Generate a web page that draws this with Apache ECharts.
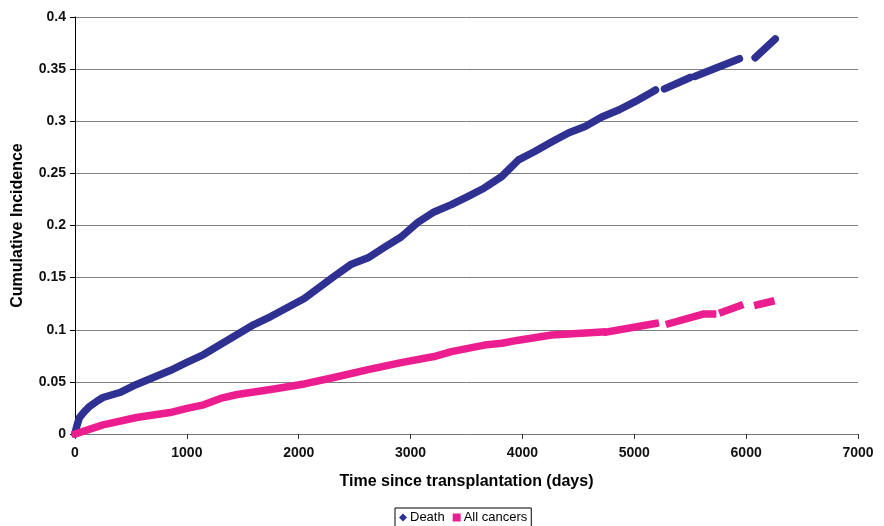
<!DOCTYPE html>
<html>
<head>
<meta charset="utf-8">
<script src="https://cdn.jsdelivr.net/npm/echarts@6/dist/echarts.min.js"></script>
<style>html,body{margin:0;padding:0;background:#fff}#c{width:884px;height:526px}</style>
</head>
<body>
<div id="c"></div>
<script>
// Death: days and cumulative incidence (null = gap in the plotted points)
var deathDays = [0, 10, 20, 40, 80, 130, 190, 250, 400, 550, 700, 850, 1000, 1150, 1300, 1450, 1600, 1750, 1900, 2050, 2315, 2465, 2620, 2765, 2915, 3065, 3210, 3365, 3515, 3660, 3815, 3965, 4110, 4260, 4415, 4560, 4710, 4865, 5010, 5160, 5190, 5230, 5270, 5500, 5520, 5540, 5940, 6010, 6080, 6260];
var deathValues = [0, 0.005, 0.009, 0.0158, 0.021, 0.0264, 0.031, 0.035, 0.0398, 0.0475, 0.0542, 0.0609, 0.0686, 0.0762, 0.0858, 0.0954, 0.105, 0.1127, 0.1213, 0.130, 0.151, 0.1625, 0.169, 0.179, 0.189, 0.203, 0.213, 0.220, 0.228, 0.236, 0.247, 0.263, 0.271, 0.280, 0.289, 0.295, 0.304, 0.311, 0.319, 0.328, 0.330, null, 0.331, 0.342, null, 0.343, 0.360, null, 0.361, 0.379];
// All cancers
var cancerDays = [0, 250, 550, 850, 1000, 1150, 1300, 1450, 1750, 2050, 2315, 2620, 2915, 3210, 3365, 3660, 3815, 3965, 4260, 4713, 4735, 4758, 5188, 5250, 5314, 5583, 5610, 5637, 5700, 5745, 5790, 5943, 6020, 6104, 6221];
var cancerValues = [0, 0.0087, 0.0158, 0.0206, 0.0245, 0.028, 0.0341, 0.0379, 0.0427, 0.048, 0.0542, 0.0618, 0.0685, 0.0743, 0.079, 0.0853, 0.087, 0.090, 0.095, 0.0978, null, 0.098, 0.106, null, 0.106, 0.114, null, 0.115, 0.115, null, 0.117, 0.123, null, 0.124, 0.127];
var xTicks = [0, 1000, 2000, 3000, 4000, 5000, 6000, 7000];
var yTicks = [0, 0.05, 0.1, 0.15, 0.2, 0.25, 0.3, 0.35, 0.4];

function pairs(xs, ys) {
  return xs.map(function (x, i) { return [x, ys[i] === null ? '-' : ys[i]]; });
}

var chart = echarts.init(document.getElementById('c'));
var font = 'Liberation Sans, Arial, sans-serif';
chart.setOption({
  animation: false,
  textStyle: { fontFamily: font },
  grid: { left: 75, right: 26, top: 17, bottom: 92, containLabel: false },
  legend: {
    bottom: -1, left: 395,
    data: [{ name: 'Death', icon: 'diamond' }, { name: 'All cancers', icon: 'rect' }],
    itemWidth: 8, itemHeight: 8, itemGap: 8,
    borderColor: '#000', borderWidth: 1, padding: [3, 4, 3, 4],
    textStyle: { fontFamily: font, fontSize: 13, color: '#000', padding: [0, 0, 0, -2] }
  },
  xAxis: {
    type: 'value', min: xTicks[0], max: xTicks[xTicks.length - 1], interval: 1000,
    name: 'Time since transplantation (days)', nameLocation: 'middle', nameGap: 40,
    nameTextStyle: { fontFamily: font, fontSize: 16, fontWeight: 'bold', color: '#000' },
    axisLine: { onZero: false, lineStyle: { color: '#777', width: 1 } },
    axisTick: { show: true, inside: false, length: 5, lineStyle: { color: '#333' } },
    axisLabel: { margin: 12, fontFamily: font, fontSize: 14, fontWeight: 'bold', color: '#111',
      formatter: function (v) { return String(v); } },
    splitLine: { show: false }
  },
  yAxis: {
    type: 'value', min: yTicks[0], max: yTicks[yTicks.length - 1], interval: 0.05,
    name: 'Cumulative Incidence', nameLocation: 'middle', nameGap: 49,
    nameTextStyle: { fontFamily: font, fontSize: 16, fontWeight: 'bold', color: '#000' },
    axisLine: { show: true, lineStyle: { color: '#000', width: 1 } },
    axisTick: { show: true, inside: false, length: 5, lineStyle: { color: '#000' } },
    axisLabel: { margin: 9, fontFamily: font, fontSize: 14, fontWeight: 'bold', color: '#111',
      formatter: function (v) { return String(parseFloat(v.toFixed(2))); } },
    splitLine: { show: true, lineStyle: { color: '#7f7f7f', width: 1 } }
  },
  series: [
    {
      name: 'Death', type: 'line', data: pairs(deathDays, deathValues),
      showSymbol: false, symbol: 'diamond', connectNulls: false,
      lineStyle: { color: '#2e3192', width: 7.5, cap: 'round', join: 'round' },
      itemStyle: { color: '#2e3192' }
    },
    {
      name: 'All cancers', type: 'line', data: pairs(cancerDays, cancerValues),
      showSymbol: false, symbol: 'rect', connectNulls: false,
      lineStyle: { color: '#ec1e8f', width: 7.5, cap: 'square', join: 'round' },
      itemStyle: { color: '#ec1e8f' }
    }
  ]
});
</script>
</body>
</html>
